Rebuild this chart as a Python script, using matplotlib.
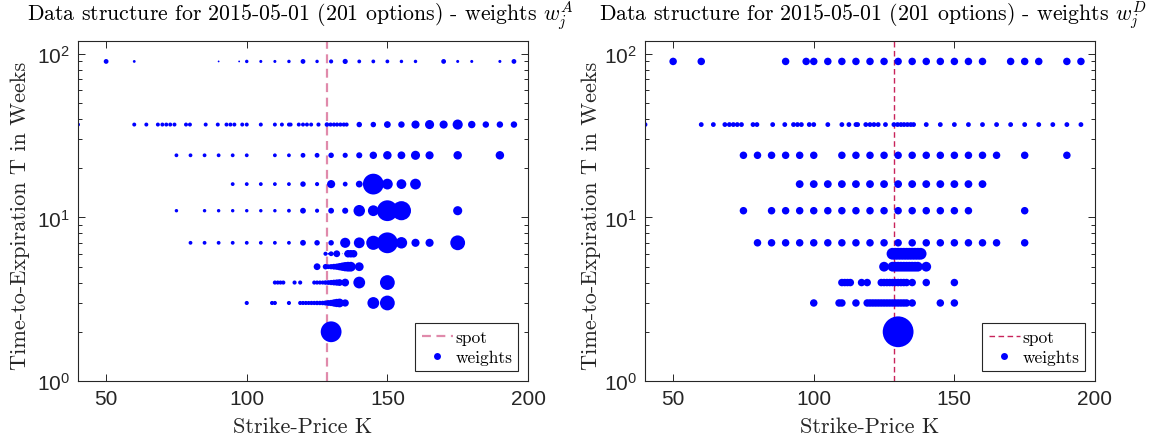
import matplotlib
matplotlib.use('Agg')
import matplotlib.pyplot as plt
from matplotlib.lines import Line2D
from matplotlib.ticker import LogLocator, FixedLocator, NullFormatter
from matplotlib.font_manager import FontProperties
import numpy as np

plt.rcParams['mathtext.fontset'] = 'custom'
plt.rcParams['mathtext.rm'] = 'Liberation Sans'
plt.rcParams['mathtext.it'] = 'Liberation Sans:italic'
plt.rcParams['mathtext.bf'] = 'Liberation Sans:bold'

# ---------------- data ----------------
date_label = '2015-05-01'
n_options = 201
spot = 128.7

# time-to-expiration (weeks) of each expiry row
maturities = [90, 37, 24, 16, 11, 7, 6, 5, 4, 3, 2]

K_90 = [50, 60, 90, 97.3, 100, 105, 110, 115, 120, 125, 130, 135, 140, 145, 150,
        155, 160, 170, 175, 180, 190, 195]
wA_90 = [16, 4, 1, 1, 7, 5, 5, 7, 16, 7, 11, 19, 9, 9, 9, 7, 7, 16, 5, 5, 5, 16]

K_37 = [40, 60, 64.3, 68.4, 70, 71.4, 72.8, 74.3, 78.4, 79.8, 85.4, 89.7, 92.8, 94.2,
        95.6, 98.4, 100, 105, 110, 112.5, 115, 115.6, 118.5, 120, 121.4, 122.9, 125.5,
        128.5, 129.8, 131, 132.1, 133.3, 134.5, 135.5, 140, 145, 150, 155, 160, 165,
        170, 175, 180, 185, 190, 195]
wA_37 = [10, 10, 10, 10, 10, 10, 10, 10, 10, 10, 10, 10, 10, 10,
         10, 10, 10, 10, 10, 10, 10, 10, 10, 10, 10, 10, 11,
         14, 11, 11, 11, 11, 11, 11, 22, 22, 36, 32, 54, 69,
         54, 87, 44, 32, 32, 32]

K_24 = [75, 80, 85, 90, 95, 100, 110, 115, 120, 125, 130, 135, 140, 145, 150, 155,
        160, 165, 175, 190]
wA_24 = [9, 9, 9, 9, 9, 9, 9, 9, 16, 16, 22, 19, 28, 44, 59, 49, 69, 54, 59, 59]

K_16 = [95, 100, 105, 110, 115, 120, 125, 130, 135, 140, 145, 150, 155, 160]
wA_16 = [9, 9, 9, 9, 9, 22, 11, 54, 16, 36, 400, 100, 81, 100]

K_11 = [75, 85, 90, 95, 100, 105, 110, 115, 120, 125, 130, 135, 140, 145, 150, 155, 175]
wA_11 = [7, 7, 7, 7, 7, 7, 7, 9, 25, 11, 25, 28, 114, 100, 400, 336, 69]

K_7 = [80, 85, 90, 95, 100, 105, 110, 115, 120, 125, 130, 135, 140, 145, 150, 155,
       160, 165, 175]
wA_7 = [9, 9, 9, 9, 9, 9, 9, 9, 25, 22, 22, 87, 100, 178, 400, 114, 54, 54, 196]

K_6 = [128, 129, 130, 131, 132, 133, 134, 135, 136, 137, 138]
wA_6 = [11, 1, 16, 1, 36, 0.5, 0.5, 1, 45, 45, 45]

K_5 = [125, 128, 129, 130, 131, 132, 133, 134, 135, 136, 137, 140]
wA_5 = [36, 22, 16, 20, 25, 30, 42, 56, 72, 81, 81, 64]

K_4 = [110, 111, 112, 113, 117, 119, 124, 125, 126, 127, 128, 129, 130, 131, 132,
       133, 135, 140, 150]
wA_4 = [11, 11, 11, 11, 11, 11, 11, 11, 11, 11, 14, 16, 20, 25, 30, 36, 49, 121, 196]

K_3 = [100, 109, 110, 115, 119, 120, 121, 122, 123, 124, 125, 126, 127, 128, 129,
       130, 131, 132, 133, 135, 145, 150]
wA_3 = [11, 11, 11, 11, 11, 11, 11, 11, 12, 12, 13, 13, 14, 18, 25, 30, 42, 56, 64,
        42, 121, 196]

K_2 = [130]
wA_2 = [400]

# w^D weights: one level per expiry row
wD_by_row = [45, 16, 45, 49, 45, 45, 121, 81, 45, 45, 900]

strike_rows = [K_90, K_37, K_24, K_16, K_11, K_7, K_6, K_5, K_4, K_3, K_2]
wA_rows = [wA_90, wA_37, wA_24, wA_16, wA_11, wA_7, wA_6, wA_5, wA_4, wA_3, wA_2]

# ---------------- assemble ----------------
K_all, T_all, wA_all, wD_all = [], [], [], []
for T, Ks, wAs, wD in zip(maturities, strike_rows, wA_rows, wD_by_row):
    K_all += list(Ks)
    T_all += [T] * len(Ks)
    wA_all += list(wAs)
    wD_all += [wD] * len(Ks)
K_all = np.array(K_all, float)
T_all = np.array(T_all, float)
wA_all = np.array(wA_all, float)
wD_all = np.array(wD_all, float)


def marker_area(w):
    # weight -> marker area in points^2 (diameter grows with sqrt(weight))
    d_px = np.sqrt(w) + 0.8 * (w > 0.6)
    return (d_px * 0.72) ** 2


W, H = 1152, 439
fig = plt.figure(figsize=(W / 100, H / 100), dpi=100)

axes_px = [(78, 42, 450, 340), (645, 42, 450, 340)]
panels = [
    dict(w=wA_all, sup='A', spot_color='#e08aab', spot_lw=1.6, ylab_x=-0.107,
         title_x=0.494),
    dict(w=wD_all, sup='D', spot_color='#c8235a', spot_lw=1.0, ylab_x=-0.098,
         title_x=0.505),
]

cm_font = 'cmr10'
gray = '#262626'

for (x0, y0, w, h), p in zip(axes_px, panels):
    ax = fig.add_axes([x0 / W, 1 - (y0 + h) / H, w / W, h / H])
    ax.set_yscale('log')
    ax.axvline(spot, ls=(0, (4, 2.5)), color=p['spot_color'], lw=p['spot_lw'], zorder=1)
    ax.scatter(K_all, T_all, s=marker_area(p['w']), c='#0000ff', edgecolors='none',
               zorder=2)
    ax.set_xlim(40, 200)
    ax.set_ylim(1, 120)
    ax.set_xticks([50, 100, 150, 200])
    ax.yaxis.set_major_locator(FixedLocator([1, 10, 100]))
    ax.yaxis.set_minor_locator(LogLocator(base=10, subs=range(2, 10)))
    ax.yaxis.set_minor_formatter(NullFormatter())
    ax.tick_params(which='both', direction='in', top=True, right=True,
                   colors=gray, labelsize=15, width=0.7)
    ax.tick_params(which='major', length=5, pad=6)
    ax.tick_params(which='minor', length=3)
    for lab in ax.get_xticklabels() + ax.get_yticklabels():
        lab.set_fontfamily('Liberation Sans')
    for sp in ax.spines.values():
        sp.set_color(gray)
        sp.set_linewidth(0.8)

    ax.set_xlabel('Strike-Price K', fontfamily=cm_font, fontsize=16, color=gray)
    ax.xaxis.set_label_coords(0.5, -0.103)
    ax.set_ylabel('Time-to-Expiration T in Weeks', fontfamily=cm_font, fontsize=16,
                  color=gray)
    ax.yaxis.set_label_coords(p['ylab_x'], 0.49)

    title = (f'Data structure for {date_label} ({n_options} options) - weights '
             + r'$w_j^{' + p['sup'] + '}$')
    ax.text(p['title_x'], 1.077, title, transform=ax.transAxes, ha='center',
            va='center', fontfamily=cm_font, fontsize=15.7, math_fontfamily='cm',
            color='black')

    handles = [Line2D([], [], ls=(0, (4, 2.5)), color=p['spot_color'], lw=p['spot_lw']),
               Line2D([], [], ls='', marker='o', color='#0000ff', markersize=5,
                      markeredgewidth=0)]
    leg = ax.legend(handles, ['spot', 'weights'], loc='lower right',
                    prop=FontProperties(family=cm_font, size=12.5), frameon=True,
                    fancybox=False, framealpha=1, edgecolor=gray,
                    borderaxespad=0.55, handlelength=1.8, handletextpad=0.15,
                    borderpad=0.35, labelspacing=0.3)
    leg.get_frame().set_linewidth(0.8)

fig.savefig('out.png', dpi=100)
